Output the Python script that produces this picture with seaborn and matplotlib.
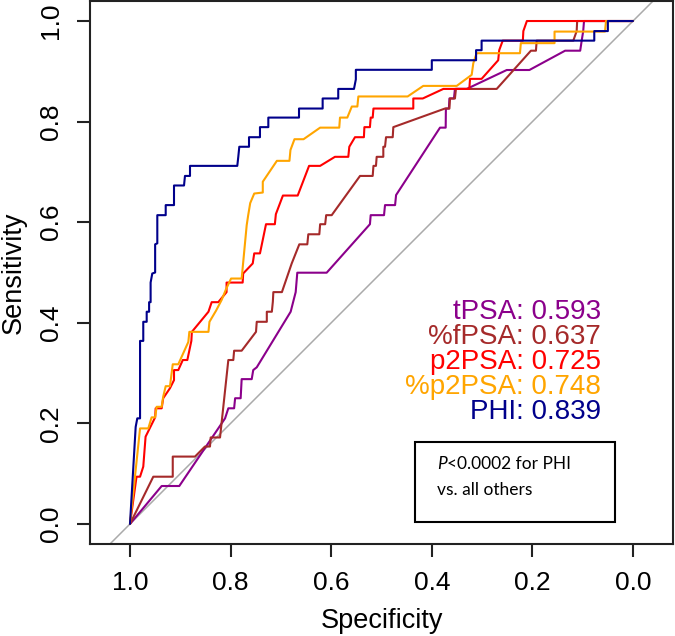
import pandas as pd
import seaborn as sns
import matplotlib.pyplot as plt
from matplotlib.patches import Rectangle

# ROC curve points (specificity, sensitivity)
tpsa_spec = [1.0, 0.937, 0.902, 0.811, 0.8045, 0.793, 0.791, 0.780, 0.778, 0.758, 0.755, 0.748,
             0.6806, 0.6706, 0.6674, 0.609, 0.523, 0.5215, 0.495, 0.493, 0.473, 0.471, 0.3837,
             0.3724, 0.372, 0.366, 0.365, 0.356, 0.354, 0.3306, 0.251, 0.206, 0.135, 0.105,
             0.102, 0.099, 0.0974, 0.0]
tpsa_sens = [0.0, 0.0755, 0.0755, 0.210, 0.230, 0.230, 0.250, 0.250, 0.288, 0.288, 0.306, 0.3115,
             0.422, 0.461, 0.4996, 0.4996, 0.596, 0.614, 0.614, 0.634, 0.634, 0.654, 0.788,
             0.788, 0.826, 0.826, 0.846, 0.846, 0.865, 0.865, 0.9026, 0.9026, 0.941, 0.941,
             0.961, 0.980, 1.0, 1.0]

fpsa_spec = [1.0, 0.9537, 0.915, 0.915, 0.8708, 0.851, 0.841, 0.8396, 0.821, 0.8045, 0.7946, 0.793,
             0.778, 0.7495, 0.748, 0.728, 0.728, 0.718, 0.716, 0.715, 0.698, 0.6785, 0.6634,
             0.6475, 0.6455, 0.6236, 0.622, 0.612, 0.610, 0.599, 0.5427, 0.5175, 0.516, 0.511,
             0.5096, 0.4964, 0.4964, 0.493, 0.491, 0.4777, 0.4765, 0.3738, 0.365, 0.3638, 0.354,
             0.352, 0.271, 0.203, 0.193, 0.1915, 0.1187, 0.112, 0.111, 0.0]
fpsa_sens = [0.0, 0.094, 0.094, 0.134, 0.134, 0.154, 0.154, 0.172, 0.172, 0.326, 0.326, 0.3445,
             0.3445, 0.382, 0.402, 0.402, 0.422, 0.422, 0.442, 0.461, 0.461, 0.518, 0.556,
             0.556, 0.576, 0.576, 0.596, 0.596, 0.614, 0.614, 0.692, 0.692, 0.712, 0.712,
             0.730, 0.730, 0.750, 0.750, 0.769, 0.769, 0.789, 0.826, 0.826, 0.846, 0.846,
             0.865, 0.865, 0.941, 0.941, 0.961, 0.961, 0.980, 1.0, 1.0]

p2psa_spec = [1.0, 0.987, 0.980, 0.9736, 0.969, 0.950, 0.949, 0.937, 0.934, 0.9205, 0.9125, 0.9125,
              0.904, 0.895, 0.886, 0.878, 0.877, 0.844, 0.8376, 0.8245, 0.808, 0.808, 0.776,
              0.775, 0.756, 0.753, 0.7416, 0.7296, 0.712, 0.710, 0.696, 0.6666, 0.644, 0.622,
              0.5925, 0.566, 0.564, 0.5527, 0.535, 0.534, 0.523, 0.5215, 0.5175, 0.516, 0.4368,
              0.4368, 0.418, 0.377, 0.3254, 0.324, 0.301, 0.268, 0.266, 0.259, 0.219, 0.218,
              0.211, 0.0]
p2psa_sens = [0.0, 0.094, 0.094, 0.114, 0.1736, 0.212, 0.230, 0.230, 0.250, 0.270, 0.286, 0.306,
              0.306, 0.326, 0.326, 0.364, 0.382, 0.422, 0.441, 0.441, 0.461, 0.480, 0.480,
              0.498, 0.518, 0.538, 0.538, 0.596, 0.596, 0.616, 0.653, 0.653, 0.712, 0.712,
              0.730, 0.730, 0.750, 0.769, 0.769, 0.789, 0.789, 0.808, 0.808, 0.826, 0.826,
              0.846, 0.846, 0.865, 0.865, 0.885, 0.885, 0.922, 0.942, 0.961, 0.961, 0.980,
              1.0, 1.0]

pp2psa_spec = [1.0, 0.980, 0.9636, 0.957, 0.950, 0.947, 0.937, 0.934, 0.929, 0.9205, 0.915, 0.904,
               0.884, 0.882, 0.844, 0.842, 0.829, 0.818, 0.809, 0.799, 0.778, 0.768, 0.765,
               0.761, 0.753, 0.736, 0.736, 0.708, 0.683, 0.681, 0.673, 0.655, 0.622, 0.584,
               0.5825, 0.568, 0.559, 0.548, 0.546, 0.448, 0.417, 0.3505, 0.3207, 0.3175, 0.311,
               0.2247, 0.223, 0.156, 0.156, 0.0557, 0.0537, 0.0]
pp2psa_sens = [0.0, 0.190, 0.190, 0.212, 0.212, 0.233, 0.233, 0.253, 0.274, 0.274, 0.3175, 0.3175,
               0.362, 0.382, 0.382, 0.402, 0.424, 0.445, 0.467, 0.488, 0.488, 0.594, 0.614,
               0.638, 0.657, 0.659, 0.6805, 0.722, 0.722, 0.7435, 0.765, 0.765, 0.788, 0.788,
               0.808, 0.808, 0.830, 0.830, 0.850, 0.850, 0.871, 0.871, 0.893, 0.916, 0.936,
               0.936, 0.956, 0.956, 0.979, 0.979, 1.0, 1.0]

phi_spec = [1.0, 0.9887, 0.9855, 0.980, 0.980, 0.9736, 0.9736, 0.9668, 0.9668, 0.962, 0.962, 0.959,
            0.959, 0.9557, 0.950, 0.950, 0.9457, 0.9457, 0.929, 0.929, 0.9125, 0.9125, 0.8926,
            0.8907, 0.8807, 0.8807, 0.7867, 0.7847, 0.7827, 0.7634, 0.7634, 0.7416, 0.7416,
            0.725, 0.725, 0.664, 0.664, 0.617, 0.617, 0.586, 0.586, 0.5547, 0.551, 0.551, 0.400,
            0.400, 0.312, 0.312, 0.301, 0.301, 0.077, 0.077, 0.050, 0.050, 0.0]
phi_sens = [0.0, 0.193, 0.210, 0.210, 0.364, 0.364, 0.402, 0.402, 0.422, 0.422, 0.441, 0.441,
            0.480, 0.498, 0.500, 0.556, 0.558, 0.614, 0.614, 0.634, 0.634, 0.673, 0.673,
            0.692, 0.692, 0.712, 0.712, 0.730, 0.750, 0.750, 0.769, 0.769, 0.789,
            0.789, 0.808, 0.808, 0.826, 0.826, 0.846, 0.846, 0.865, 0.865, 0.884, 0.903, 0.903,
            0.922, 0.922, 0.942, 0.942, 0.961, 0.961, 0.980, 0.980, 1.0, 1.0]

markers = ['tPSA', '%fPSA', 'p2PSA', '%p2PSA', 'PHI']
auc = ['0.593', '0.637', '0.725', '0.748', '0.839']
colors = ['#8B008B', '#A52A2A', '#FF0000', '#FFA500', '#00008B']

curves = {'tPSA': (tpsa_spec, tpsa_sens), '%fPSA': (fpsa_spec, fpsa_sens),
          'p2PSA': (p2psa_spec, p2psa_sens), '%p2PSA': (pp2psa_spec, pp2psa_sens),
          'PHI': (phi_spec, phi_sens)}
rows = []
for m in markers:
    sp, se = curves[m]
    for i, (a, b) in enumerate(zip(sp, se)):
        rows.append({'marker': m, 'step': i, 'spec': a, 'sens': b})
df = pd.DataFrame(rows)

sns.set_style("ticks")
plt.rcParams['font.family'] = ['Liberation Sans', 'DejaVu Sans']
plt.rcParams['text.color'] = 'black'
plt.rcParams['axes.labelcolor'] = 'black'
plt.rcParams['xtick.color'] = '#222222'
plt.rcParams['ytick.color'] = '#222222'
plt.rcParams['xtick.labelcolor'] = 'black'
plt.rcParams['ytick.labelcolor'] = 'black'

fig = plt.figure(figsize=(6.75, 6.36), dpi=100)
ax = fig.add_axes([90 / 675, 92 / 636, 583 / 675, 543 / 636])

ax.axline((1, 0), (0, 1), color='#aaaaaa', lw=1.1, zorder=1)
sns.lineplot(data=df, x='spec', y='sens', hue='marker', hue_order=markers,
             palette=dict(zip(markers, colors)), sort=False, estimator=None,
             lw=1.5, legend=False, ax=ax, zorder=2)

ax.set_xlim(1.0795, -0.0795)
ax.set_ylim(-0.0398, 1.0398)
ticks = [1.0, 0.8, 0.6, 0.4, 0.2, 0.0]
ax.set_xticks(ticks)
ax.set_xticklabels([f'{t:.1f}' for t in ticks], fontsize=19)
ax.set_yticks(ticks)
ax.set_yticklabels([f'{t:.1f}' for t in ticks], fontsize=19, rotation=90, va='center')
ax.tick_params(axis='both', length=9.5, width=1.5)
ax.tick_params(axis='x', pad=10)
ax.tick_params(axis='y', pad=10)
for s in ax.spines.values():
    s.set_linewidth(1.5)
    s.set_color('#222222')

ax.set_xlabel('Specificity', fontsize=19.5, va='baseline')
ax.set_ylabel('Sensitivity', fontsize=19.5, va='baseline')
ax.xaxis.set_label_coords(0.5, -0.1547)
ax.yaxis.set_label_coords(-0.1189, 0.5)

# AUC labels
for i, (m, a, c) in enumerate(zip(markers, auc, colors)):
    ax.text(0.0636, 0.4215 - i * 0.0497, f'{m}: {a}', color=c, fontsize=20,
            ha='right', va='center')

# p-value box
ax.add_patch(Rectangle((0.0358, 0.004), 0.3976, 0.159, fill=False, lw=1.5,
                       edgecolor='black', zorder=3))
tp = ax.text(0.3897, 0.119, 'P', fontsize=12.5, style='italic', family=['Lato', 'DejaVu Sans'],
             va='center', ha='left')
ax.annotate('<0.0002 for PHI', xy=(1, 0.5), xycoords=tp, fontsize=12.5,
            family=['Lato', 'DejaVu Sans'], va='center', ha='left')
ax.text(0.3897, 0.0676, 'vs. all others', fontsize=12.5, family=['Lato', 'DejaVu Sans'],
        va='center', ha='left')

fig.savefig('out.png', dpi=100)
